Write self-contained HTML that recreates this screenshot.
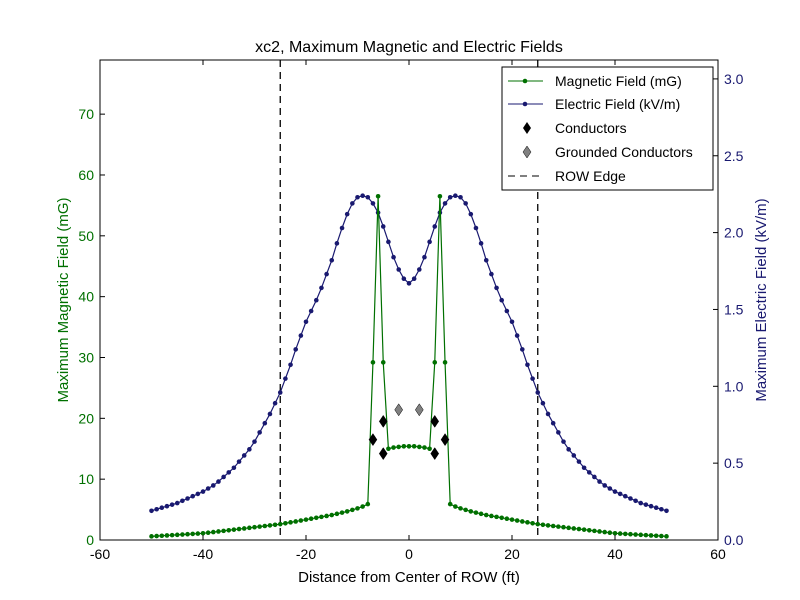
<!DOCTYPE html>
<html><head><meta charset="utf-8"><style>
body{margin:0;background:#fff;}
svg{display:block;font-family:"Liberation Sans",sans-serif;}
</style></head><body>
<svg id="chart" width="800" height="600" viewBox="0 0 800 600"></svg>
<script>
const xPositions = [-50,-49,-48,-47,-46,-45,-44,-43,-42,-41,-40,-39,-38,-37,-36,-35,-34,-33,-32,-31,-30,-29,-28,-27,-26,-25,-24,-23,-22,-21,-20,-19,-18,-17,-16,-15,-14,-13,-12,-11,-10,-9,-8,-7,-6,-5,-4,-3,-2,-1,0,1,2,3,4,5,6,7,8,9,10,11,12,13,14,15,16,17,18,19,20,21,22,23,24,25,26,27,28,29,30,31,32,33,34,35,36,37,38,39,40,41,42,43,44,45,46,47,48,49,50];
const magneticValues = [0.6,0.65,0.7,0.75,0.8,0.85,0.9,0.95,1.0,1.05,1.1,1.2,1.3,1.4,1.5,1.6,1.7,1.8,1.9,2.0,2.1,2.2,2.3,2.4,2.5,2.6,2.75,2.9,3.05,3.2,3.35,3.5,3.65,3.8,3.95,4.1,4.3,4.5,4.7,4.95,5.2,5.5,5.9,29.2,56.5,29.2,15.0,15.2,15.3,15.4,15.4,15.4,15.3,15.2,15.0,29.2,56.5,29.2,5.9,5.5,5.2,4.95,4.7,4.5,4.3,4.1,3.95,3.8,3.65,3.5,3.35,3.2,3.05,2.9,2.75,2.6,2.5,2.4,2.3,2.2,2.1,2.0,1.9,1.8,1.7,1.6,1.5,1.4,1.3,1.2,1.1,1.05,1.0,0.95,0.9,0.85,0.8,0.75,0.7,0.65,0.6];
const electricValues = [0.19,0.20,0.21,0.22,0.23,0.24,0.255,0.27,0.285,0.30,0.315,0.335,0.355,0.38,0.41,0.44,0.47,0.51,0.55,0.59,0.64,0.70,0.76,0.82,0.89,0.96,1.05,1.14,1.24,1.33,1.42,1.49,1.56,1.64,1.73,1.82,1.93,2.03,2.12,2.19,2.23,2.24,2.23,2.19,2.13,2.04,1.94,1.84,1.76,1.70,1.67,1.70,1.76,1.84,1.94,2.04,2.13,2.19,2.23,2.24,2.23,2.19,2.12,2.03,1.93,1.82,1.73,1.64,1.56,1.49,1.42,1.33,1.24,1.14,1.05,0.96,0.89,0.82,0.76,0.70,0.64,0.59,0.55,0.51,0.47,0.44,0.41,0.38,0.355,0.335,0.315,0.30,0.285,0.27,0.255,0.24,0.23,0.22,0.21,0.20,0.19];
const conductorX = [-7,-5,-5,5,5,7];
const conductorY = [16.5,19.5,14.2,19.5,14.2,16.5];
const groundedX = [-2,2];
const groundedY = [21.4,21.4];
const rowEdges = [-25,25];
const xTicks = [-60,-40,-20,0,20,40,60];
const yLeftTicks = [0,10,20,30,40,50,60,70];
const yRightTicks = [0.0,0.5,1.0,1.5,2.0,2.5,3.0];

const L=100,R=718,T=60,B=540;
const sx=v=>L+(v+60)/120*(R-L);
const syL=v=>B-v/78.9*(B-T);
const syR=v=>B-v/3.123*(B-T);
const svg=document.getElementById('chart');
const NS='http://www.w3.org/2000/svg';
function mk(tag,attrs,parent){const e=document.createElementNS(NS,tag);for(const k in attrs)e.setAttribute(k,attrs[k]);(parent||svg).appendChild(e);return e;}
const G='#007000',BL='#191970';

mk('rect',{x:L,y:T,width:R-L,height:B-T,fill:'#fff'});
// ROW edges
rowEdges.forEach(v=>{const l=mk('line',{x1:sx(v),x2:sx(v),y1:T,y2:B,stroke:'#000','stroke-width':1.3,'stroke-dasharray':'7,5'});

});
// electric line
let pe=mk('polyline',{points:xPositions.map((x,i)=>sx(x)+','+syR(electricValues[i])).join(' '),fill:'none',stroke:BL,'stroke-width':1.2});


xPositions.forEach((x,i)=>{const c=mk('circle',{cx:sx(x),cy:syR(electricValues[i]),r:2.3,fill:BL});

});
// magnetic
let pm=mk('polyline',{points:xPositions.map((x,i)=>sx(x)+','+syL(magneticValues[i])).join(' '),fill:'none',stroke:G,'stroke-width':1.2});


xPositions.forEach((x,i)=>{const c=mk('circle',{cx:sx(x),cy:syL(magneticValues[i]),r:2.3,fill:G});

});
function diamond(cx,cy,fill,name){const p=mk('polygon',{points:`${cx},${cy-6} ${cx+4},${cy} ${cx},${cy+6} ${cx-4},${cy}`,fill:fill,stroke:'#000','stroke-width':0.5});

}
conductorX.forEach((x,i)=>diamond(sx(x),syL(conductorY[i]),'#000','conductor-marker'));
groundedX.forEach((x,i)=>diamond(sx(x),syL(groundedY[i]),'#808080','grounded-conductor-marker'));
// frame
mk('rect',{x:L,y:T,width:R-L,height:B-T,fill:'none',stroke:'#000','stroke-width':1});
// x ticks
xTicks.forEach(v=>{const x=sx(v);mk('line',{x1:x,x2:x,y1:B,y2:B-5,stroke:'#000'});mk('line',{x1:x,x2:x,y1:T,y2:T+5,stroke:'#000'});
const t=mk('text',{x:x,y:B+19,'text-anchor':'middle','font-size':14});t.textContent=v;

});
yLeftTicks.forEach(v=>{const y=syL(v);mk('line',{x1:L,x2:L+5,y1:y,y2:y,stroke:'#000'});
const t=mk('text',{x:L-6,y:y+5,'text-anchor':'end','font-size':14,fill:G});t.textContent=v;

});
yRightTicks.forEach(v=>{const y=syR(v);mk('line',{x1:R-5,x2:R,y1:y,y2:y,stroke:'#000'});
const t=mk('text',{x:R+6,y:y+5,'font-size':14,fill:BL});t.textContent=v.toFixed(1);

});
</script>
<svg style="position:absolute;left:0;top:0" width="800" height="600">
<text x="409" y="52" text-anchor="middle" font-size="16" font-family="Liberation Sans, sans-serif">xc2, Maximum Magnetic and Electric Fields</text>
<text x="409" y="582" text-anchor="middle" font-size="15" font-family="Liberation Sans, sans-serif">Distance from Center of ROW (ft)</text>
<text transform="translate(68,300) rotate(-90)" text-anchor="middle" font-size="15" fill="#007000" font-family="Liberation Sans, sans-serif">Maximum Magnetic Field (mG)</text>
<text transform="translate(766,300) rotate(-90)" text-anchor="middle" font-size="15" fill="#191970" font-family="Liberation Sans, sans-serif">Maximum Electric Field (kV/m)</text>
<g font-family="Liberation Sans, sans-serif" font-size="14">
<rect x="502" y="67" width="211" height="123" fill="#fff" stroke="#000"/>
<line x1="508" y1="81" x2="543" y2="81" stroke="#007000"/><circle cx="525" cy="81" r="2.3" fill="#007000"/>
<text x="555" y="86">Magnetic Field (mG)</text>
<line x1="508" y1="104" x2="543" y2="104" stroke="#191970"/><circle cx="525" cy="104" r="2.3" fill="#191970"/>
<text x="555" y="109">Electric Field (kV/m)</text>
<polygon points="527,122 531,128 527,134 523,128" fill="#000"/>
<text x="555" y="133">Conductors</text>
<polygon points="527,146 531,152 527,158 523,152" fill="#808080" stroke="#000" stroke-width="0.5"/>
<text x="555" y="157">Grounded Conductors</text>
<line x1="508" y1="176" x2="543" y2="176" stroke="#000" stroke-dasharray="7,5"/>
<text x="555" y="181">ROW Edge</text>
</g>
</svg>
</body></html>
